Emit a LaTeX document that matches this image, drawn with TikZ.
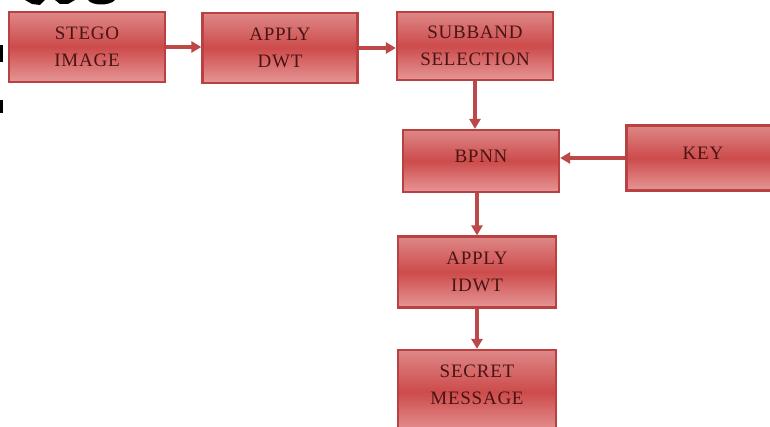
\documentclass[tikz,border=0pt]{standalone}
\usepackage{fontspec}
\setmainfont[LetterSpace=4]{Liberation Serif}
\usetikzlibrary{arrows.meta}
\definecolor{boxborder}{RGB}{185,65,65}
\definecolor{boxtop}{RGB}{222,135,135}
\definecolor{boxmid}{RGB}{205,75,75}
\definecolor{boxbot}{RGB}{230,150,150}
\definecolor{txt}{RGB}{75,20,20}
\definecolor{arr}{RGB}{188,72,72}
\tikzset{
  boxtext/.style={align=center, text=txt, font=\fontsize{19}{27}\selectfont, inner sep=0pt},
  box/.style={boxtext, draw=boxborder, line width=2.2pt, top color=boxtop, bottom color=boxbot, middle color=boxmid},
  conn/.style={draw=arr, line width=3.4pt, -{Triangle[length=10pt,width=11pt]}}
}
\begin{document}
\begin{tikzpicture}[x=1pt,y=-1pt]
\useasboundingbox (0,0) rectangle (770,427);
\clip (0,0) rectangle (770,427);
\fill[white] (0,0) rectangle (770,427);
% cropped glyph fragments
\fill[black] (25,0) -- (45,0) -- (40,5) -- (32,4) -- cycle;
\fill[black] (55,0) -- (75,0) -- (68,4) -- (60,4) -- cycle;
\fill[black] (88,0) .. controls (92,6) and (110,6) .. (115,0) -- cycle;
\fill[black] (0,45) rectangle (3,62);
\fill[black] (0,100) rectangle (3,113);
% boxes
\node[box, minimum width=156, minimum height=70] (stego) at (87,47) {STEGO\\IMAGE};
\node[box, minimum width=155, minimum height=70] (dwt) at (280,48) {APPLY\\DWT};
\node[box, minimum width=156, minimum height=68] (sub) at (475,46) {SUBBAND\\SELECTION};
\node[box, minimum width=156, minimum height=62] (bpnn) at (481,161) {\raisebox{9pt}{BPNN}};
\node[box, minimum width=153, minimum height=65] (key) at (703,158) {\raisebox{10pt}{KEY}};
\node[box, minimum width=158, minimum height=71] (idwt) at (477,272) {APPLY\\IDWT};
\node[box, minimum width=158, minimum height=84] (secret) at (477,392) {};
\node[boxtext] (secrettext) at (477,385) {SECRET\\MESSAGE};
% connectors
\draw[conn] (stego.east) -- (dwt.west |- stego.east);
\draw[conn] (dwt.east) -- (sub.west |- dwt.east);
\draw[conn] (sub.south) -- (sub.south |- bpnn.north);
\draw[conn] (key.west) -- (key.west -| bpnn.east);
\draw[conn] ([xshift=-4pt]bpnn.south) -- ([xshift=-4pt]bpnn.south |- idwt.north);
\draw[conn] (idwt.south) -- (idwt.south |- secret.north);
\end{tikzpicture}
\end{document}
